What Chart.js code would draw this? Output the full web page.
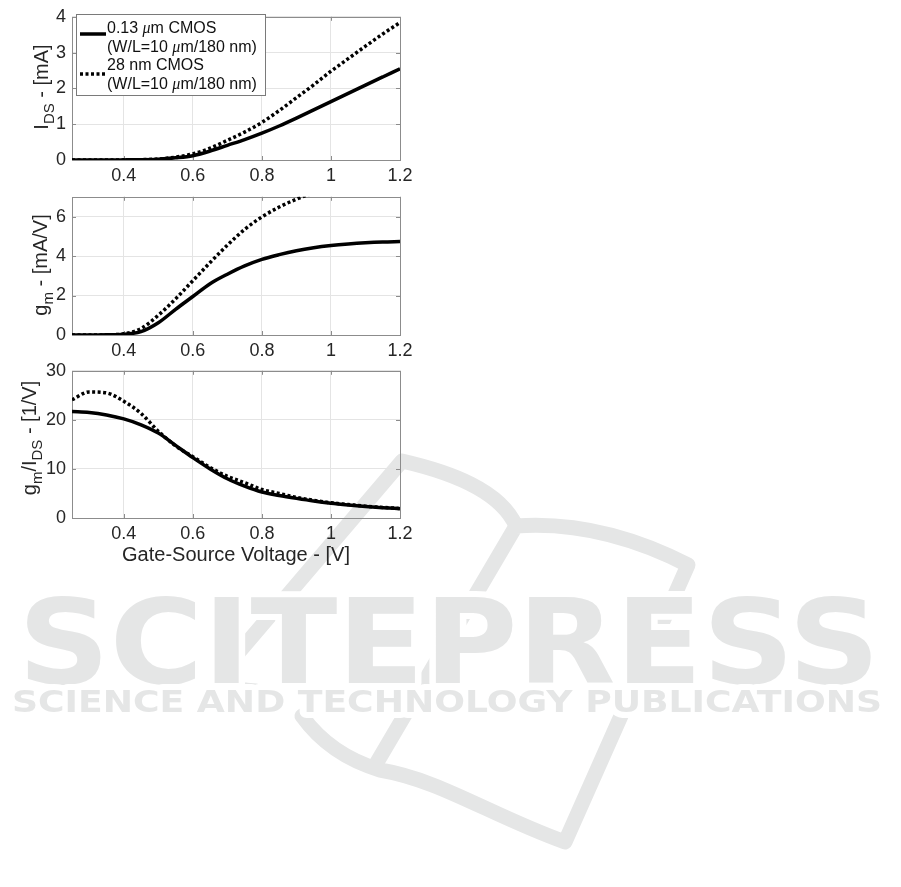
<!DOCTYPE html>
<html>
<head>
<meta charset="utf-8">
<script src="https://cdn.jsdelivr.net/npm/chart.js@4.4.1/dist/chart.umd.min.js"></script>
<style>
  body { margin: 0; background: #fff; }
  #wrap { position: relative; width: 901px; height: 887px; overflow: hidden; }
  #wrap canvas { position: absolute; left: 0; }
</style>
</head>
<body>
<div id="wrap">
  <canvas id="mark" width="901" height="887" style="top:0"></canvas>
  <canvas id="cIds" width="420" height="185" style="top:0"></canvas>
  <canvas id="cGm" width="420" height="180" style="top:180px"></canvas>
  <canvas id="cGmId" width="420" height="224" style="top:354px"></canvas>
</div>
<script>
// gate-source voltage [V]
const voltage = [0.25, 0.30, 0.35, 0.40, 0.45, 0.50, 0.55, 0.60, 0.65, 0.70,
                 0.75, 0.80, 0.85, 0.90, 0.95, 1.00, 1.05, 1.10, 1.15, 1.20];

// drain current [mA]
const idsSolid  = [0, 0, 0.001, 0.003, 0.008, 0.022, 0.06, 0.12, 0.25, 0.41,
                   0.57, 0.75, 0.95, 1.17, 1.40, 1.63, 1.86, 2.09, 2.32, 2.55];
const idsDotted = [0, 0, 0.001, 0.004, 0.010, 0.028, 0.08, 0.17, 0.33, 0.55,
                   0.78, 1.05, 1.38, 1.74, 2.10, 2.48, 2.83, 3.18, 3.52, 3.84];

// transconductance [mA/V]  (28 nm curve leaves the axes above 7)
const gmSolid  = [0, 0, 0.01, 0.04, 0.17, 0.62, 1.30, 1.95, 2.60, 3.08,
                  3.50, 3.83, 4.07, 4.27, 4.42, 4.53, 4.61, 4.67, 4.71, 4.73];
const gmDotted = [0, 0, 0.01, 0.06, 0.33, 1.00, 1.83, 2.75, 3.67, 4.55,
                  5.35, 5.98, 6.48, 6.88, 7.20, null, null, null, null, null];

// gm/Ids [1/V]
const gmIdSolid  = [21.7, 21.5, 21.0, 20.2, 19.0, 17.3, 14.8, 12.3, 10.0, 8.0,
                    6.5, 5.3, 4.6, 4.0, 3.45, 3.0, 2.65, 2.35, 2.1, 1.9];
const gmIdDotted = [24.1, 25.7, 25.5, 23.8, 21.3, 17.7, 14.7, 12.5, 10.3, 8.5,
                    7.2, 5.8, 5.0, 4.2, 3.6, 3.1, 2.75, 2.4, 2.15, 1.95];

const xTicks = [0.4, 0.6, 0.8, 1, 1.2];
const idsTicks = [0, 1, 2, 3, 4];
const gmTicks = [0, 2, 4, 6];
const gmIdTicks = [0, 10, 20, 30];

const seriesNames = [
  ['0.13 μm CMOS', '(W/L=10 μm/180 nm)'],
  ['28 nm CMOS', '(W/L=10 μm/180 nm)']
];

const FONT = "'Liberation Sans', Arial, sans-serif";
const GRID = '#e4e4e4';
const BOX = '#8c8c8c';
const TXT = '#262626';

function pts(ys) {
  return voltage.map((v, i) => ({ x: v, y: ys[i] }));
}

// draws a string made of [text, isSubscript] parts, centred on x
function richText(ctx, parts, x, y, size) {
  const sub = Math.round(size * 0.75);
  let w = 0;
  parts.forEach(p => {
    ctx.font = (p[1] ? sub : size) + 'px ' + FONT;
    w += ctx.measureText(p[0]).width;
  });
  let cx = x - w / 2;
  ctx.textAlign = 'left';
  ctx.textBaseline = 'alphabetic';
  parts.forEach(p => {
    ctx.font = (p[1] ? sub : size) + 'px ' + FONT;
    ctx.fillText(p[0], cx, y + (p[1] ? size * 0.28 : 0));
    cx += ctx.measureText(p[0]).width;
  });
}

// matlab-like axes box, inward ticks, rotated y label, x label
const axesDeco = {
  id: 'axesDeco',
  beforeDatasetsDraw(chart) {
    const { ctx, chartArea: a, scales } = chart;
    ctx.save();
    ctx.strokeStyle = BOX;
    ctx.lineWidth = 1;
    ctx.strokeRect(Math.round(a.left) + 0.5, Math.round(a.top) + 0.5,
                   Math.round(a.right - a.left), Math.round(a.bottom - a.top));
    ctx.beginPath();
    scales.x.ticks.forEach(t => {
      const px = Math.round(scales.x.getPixelForValue(t.value)) + 0.5;
      ctx.moveTo(px, a.bottom); ctx.lineTo(px, a.bottom - 4);
      ctx.moveTo(px, a.top); ctx.lineTo(px, a.top + 4);
    });
    scales.y.ticks.forEach(t => {
      const py = Math.round(scales.y.getPixelForValue(t.value)) + 0.5;
      ctx.moveTo(a.left, py); ctx.lineTo(a.left + 4, py);
      ctx.moveTo(a.right, py); ctx.lineTo(a.right - 4, py);
    });
    ctx.stroke();
    ctx.restore();
  },
  afterDraw(chart) {
    const o = chart.options.plugins.axesDeco;
    const { ctx } = chart;
    ctx.save();
    ctx.fillStyle = TXT;
    ctx.translate(o.yLabelX, o.yLabelY);
    ctx.rotate(-Math.PI / 2);
    richText(ctx, o.yLabel, 0, 0, 20);
    ctx.restore();
    if (o.xLabel) {
      ctx.save();
      ctx.fillStyle = TXT;
      richText(ctx, o.xLabel, o.xLabelX, o.xLabelY, 20);
      ctx.restore();
    }
  }
};

// boxed legend with two-line entries
const boxLegend = {
  id: 'boxLegend',
  afterDraw(chart) {
    const o = chart.options.plugins.boxLegend;
    if (!o) return;
    const { ctx } = chart;
    ctx.save();
    ctx.fillStyle = '#fff';
    ctx.fillRect(76, 14, 189, 81);
    ctx.strokeStyle = '#7a7a7a';
    ctx.lineWidth = 1;
    ctx.strokeRect(76.5, 14.5, 189, 81);
    const lines = [33, 51.5, 70, 88.5];
    const samples = [34, 74];
    seriesNames.forEach((entry, k) => {
      const ds = chart.data.datasets[k];
      ctx.beginPath();
      ctx.strokeStyle = '#000';
      ctx.lineWidth = ds.borderWidth;
      ctx.setLineDash(ds.borderDash || []);
      ctx.moveTo(80, samples[k]);
      ctx.lineTo(106, samples[k]);
      ctx.stroke();
      ctx.setLineDash([]);
      entry.forEach((line, j) => {
        let x = 107;
        const y = lines[k * 2 + j];
        ctx.fillStyle = '#111';
        ctx.textBaseline = 'alphabetic';
        ctx.textAlign = 'left';
        line.split(/(μ)/).forEach(seg => {
          ctx.font = seg === 'μ' ? "italic 16px 'Liberation Serif', serif" : '16px ' + FONT;
          ctx.fillText(seg, x, y);
          x += ctx.measureText(seg).width;
        });
      });
    });
    ctx.restore();
  }
};

function makeChart(id, solid, dotted, yMax, yTicks, padTop, xHeight, deco, legend) {
  return new Chart(document.getElementById(id), {
    type: 'line',
    data: {
      datasets: [
        { label: seriesNames[0].join(' '), data: pts(solid), borderColor: '#000',
          borderWidth: 3.5, pointRadius: 0, cubicInterpolationMode: 'monotone', fill: false },
        { label: seriesNames[1].join(' '), data: pts(dotted), borderColor: '#000',
          borderWidth: 3.5, borderDash: [3, 2.5], borderCapStyle: 'butt', pointRadius: 0,
          cubicInterpolationMode: 'monotone', fill: false, spanGaps: false }
      ]
    },
    options: {
      responsive: false,
      animation: false,
      events: [],
      layout: { padding: { top: padTop, right: 20, left: 0, bottom: 0 } },
      plugins: {
        legend: { display: false },
        tooltip: { enabled: false },
        axesDeco: deco,
        boxLegend: legend
      },
      scales: {
        x: {
          type: 'linear', min: 0.25, max: 1.2,
          afterBuildTicks: s => { s.ticks = xTicks.map(v => ({ value: v })); },
          afterFit: s => { s.height = xHeight; },
          grid: { color: GRID, drawTicks: false },
          border: { display: false },
          ticks: { padding: 5, color: TXT, font: { family: FONT, size: 18 },
                   maxRotation: 0, autoSkip: false, callback: v => String(v) }
        },
        y: {
          type: 'linear', min: 0, max: yMax,
          afterBuildTicks: s => { s.ticks = yTicks.map(v => ({ value: v })); },
          afterFit: s => { s.width = 72; },
          grid: { color: GRID, drawTicks: false },
          border: { display: false },
          ticks: { padding: 6, color: TXT, font: { family: FONT, size: 18 },
                   callback: v => String(v) }
        }
      }
    },
    plugins: [axesDeco, boxLegend]
  });
}

makeChart('cIds', idsSolid, idsDotted, 4, idsTicks, 13, 25,
  { yLabel: [['I', 0], ['DS', 1], [' - [mA]', 0]], yLabelX: 48, yLabelY: 87 },
  true);

makeChart('cGm', gmSolid, gmDotted, 7, gmTicks, 15, 25,
  { yLabel: [['g', 0], ['m', 1], [' - [mA/V]', 0]], yLabelX: 47, yLabelY: 85 },
  null);

makeChart('cGmId', gmIdSolid, gmIdDotted, 30, gmIdTicks, 15, 60,
  { yLabel: [['g', 0], ['m', 1], ['/I', 0], ['DS', 1], [' - [1/V]', 0]], yLabelX: 36, yLabelY: 84,
    xLabel: [['Gate-Source Voltage - [V]', 0]], xLabelX: 236, xLabelY: 207 },
  null);

// publisher watermark behind the figure
(function () {
  const ctx = document.getElementById('mark').getContext('2d');
  const gray = '#e5e6e6';
  ctx.strokeStyle = gray;
  ctx.lineWidth = 15;
  ctx.lineCap = 'round';
  ctx.lineJoin = 'round';
  ctx.beginPath();
  ctx.moveTo(402, 461); ctx.lineTo(222, 672); ctx.quadraticCurveTo(214, 688, 256, 691);
  ctx.moveTo(402, 461); ctx.bezierCurveTo(450, 472, 500, 490, 516, 526);
  ctx.quadraticCurveTo(600, 520, 688, 565); ctx.lineTo(565, 842);
  ctx.moveTo(516, 526); ctx.lineTo(376, 764);
  ctx.moveTo(302, 716); ctx.quadraticCurveTo(330, 755, 380, 770);
  ctx.bezierCurveTo(440, 780, 490, 815, 565, 842);
  ctx.stroke();

  function wide(text, x0, x1, base, size) {
    ctx.font = 'bold ' + size + "px 'DejaVu Sans', sans-serif";
    const w = ctx.measureText(text).width;
    ctx.save();
    ctx.translate(x0, base);
    ctx.scale((x1 - x0) / w, 1);
    ctx.textBaseline = 'alphabetic';
    ctx.lineWidth = 12;
    ctx.strokeStyle = '#fff';
    ctx.strokeText(text, 0, 0);
    ctx.fillStyle = gray;
    ctx.fillText(text, 0, 0);
    ctx.restore();
  }
  wide('SCITEPRESS', 18, 880, 683, 117);
  wide('SCIENCE AND TECHNOLOGY PUBLICATIONS', 12, 882, 712, 31);
})();
</script>
</body>
</html>
